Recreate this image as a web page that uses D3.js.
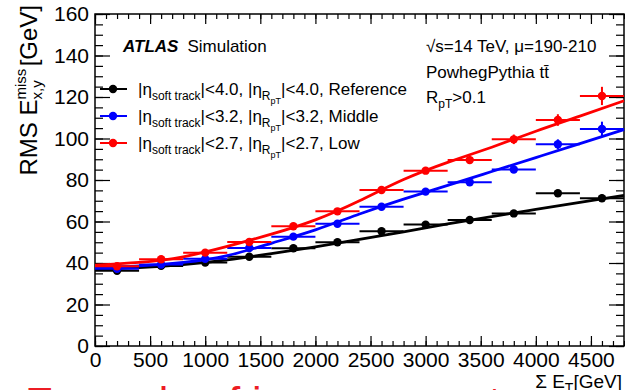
<!DOCTYPE html>
<html>
<head>
<meta charset="utf-8">
<script src="https://cdn.jsdelivr.net/npm/d3@7"></script>
<style>
  html, body { margin: 0; padding: 0; background: #fff; overflow: hidden; }
  svg { display: block; font-family: "Liberation Sans", Arial, sans-serif; }
</style>
</head>
<body>
<svg width="625" height="390"></svg>
<script>
// bin centres in sum E_T [GeV], each bin is 400 GeV wide
const sumEt = [200, 600, 1000, 1400, 1800, 2200, 2600, 3000, 3400, 3800, 4200, 4600];
const binHalfWidth = 200;

// RMS E_x,y^miss [GeV] per bin
const rmsReference = [36.3, 38.6, 40.2, 43.0, 47.1, 50.0, 55.3, 58.5, 60.7, 63.9, 73.6, 71.2];
const errReference = [0.6, 0.6, 0.6, 0.7, 0.8, 0.9, 1.0, 1.1, 1.2, 1.4, 1.3, 1.8];
const rmsMiddle = [37.2, 39.3, 42.0, 47.2, 52.7, 58.9, 67.1, 74.4, 78.9, 85.1, 97.2, 104.6];
const errMiddle = [0.6, 0.6, 0.7, 0.8, 0.9, 1.0, 1.2, 1.4, 1.6, 1.9, 2.4, 3.5];
const rmsLow = [38.4, 41.8, 45.0, 50.1, 57.7, 64.9, 75.2, 84.5, 89.6, 99.6, 108.9, 120.5];
const errLow = [0.6, 0.7, 0.8, 0.9, 1.0, 1.2, 1.4, 1.6, 1.9, 2.3, 2.8, 4.4];

// fitted curves read at these sum E_T values
const fitEt = [0, 400, 800, 1200, 1600, 2000, 2400, 2800, 3200, 3600, 4000, 4400, 4800];
const fitReference = [37.2, 37.8, 39.2, 41.5, 44.5, 47.8, 51.4, 55.0, 58.8, 62.4, 65.8, 69.2, 72.6];
const fitMiddle = [37.9, 38.6, 40.3, 43.6, 49.5, 56.0, 63.6, 70.8, 77.4, 84.1, 90.8, 97.5, 104.3];
const fitLow = [39.0, 40.3, 43.0, 48.0, 53.9, 60.8, 70.0, 80.2, 88.5, 95.8, 103.5, 110.8, 118.2];

const xTicks = [0, 500, 1000, 1500, 2000, 2500, 3000, 3500, 4000, 4500];
const yTicks = [0, 20, 40, 60, 80, 100, 120, 140, 160];
const legendCuts = ["4.0", "3.2", "2.7"];
const legendNames = ["Reference", "Middle", "Low"];

const svg = d3.select("svg");
const frameL = 95, frameR = 624, frameT = 14, frameB = 346;
const x = d3.scaleLinear().domain([0, 4800]).range([frameL, frameR]);
const y = d3.scaleLinear().domain([0, 160]).range([frameB, frameT]);

// writes a run of text pieces (for sub/superscripts) one after another
function rich(parent, x0, y0, parts, anchor) {
  const g = parent.append("g");
  let cx = 0;
  parts.forEach(p => {
    const t = g.append("text")
      .attr("x", cx + (p.dx || 0))
      .attr("y", p.dy || 0)
      .attr("font-size", p.s)
      .attr("font-weight", p.b ? "bold" : null)
      .attr("font-style", p.i ? "italic" : null)
      .attr("fill", p.c || "#000")
      .text(p.t);
    const w = t.node().getComputedTextLength();
    if (!p.stay) cx += (p.dx || 0) + w;
  });
  let shift = 0;
  if (anchor === "end") shift = -cx;
  if (anchor === "middle") shift = -cx / 2;
  g.attr("transform", `translate(${x0 + shift},${y0})`);
  return g;
}

// axes, ROOT style: ticks inside the frame on all four sides
function axisGroup(axis, tr) {
  const g = svg.append("g").attr("transform", tr).call(axis);
  g.select(".domain").remove();
  g.selectAll(".tick line").attr("stroke", "#000").attr("stroke-width", 1.2);
  return g;
}
const minorX = d3.range(0, 4801, 100), minorY = d3.range(0, 161, 5);

axisGroup(d3.axisBottom(x).tickValues(minorX).tickSize(-5).tickFormat(""), `translate(0,${frameB})`);
const xAx = axisGroup(d3.axisBottom(x).tickValues(xTicks).tickSize(-10).tickPadding(6).tickFormat(d3.format("d")), `translate(0,${frameB})`);
xAx.selectAll("text").attr("font-size", 21).attr("font-family", "Liberation Sans").attr("fill", "#000");
axisGroup(d3.axisTop(x).tickValues(minorX).tickSize(-5).tickFormat(""), `translate(0,${frameT})`);
axisGroup(d3.axisTop(x).tickValues(xTicks).tickSize(-10).tickFormat(""), `translate(0,${frameT})`);

axisGroup(d3.axisLeft(y).tickValues(minorY).tickSize(-8).tickFormat(""), `translate(${frameL},0)`);
const yAx = axisGroup(d3.axisLeft(y).tickValues(yTicks).tickSize(-15).tickPadding(6).tickFormat(d3.format("d")), `translate(${frameL},0)`);
yAx.selectAll("text").attr("font-size", 21).attr("font-family", "Liberation Sans").attr("fill", "#000");
axisGroup(d3.axisRight(y).tickValues(minorY).tickSize(-8).tickFormat(""), `translate(${frameR},0)`);
axisGroup(d3.axisRight(y).tickValues(yTicks).tickSize(-15).tickFormat(""), `translate(${frameR},0)`);

svg.append("rect")
  .attr("x", frameL).attr("y", frameT)
  .attr("width", frameR - frameL).attr("height", frameB - frameT)
  .attr("fill", "none").attr("stroke", "#000").attr("stroke-width", 1.5);

// series
const series = [
  { color: "#000000", rms: rmsReference, err: errReference, fit: fitReference },
  { color: "#0000ff", rms: rmsMiddle, err: errMiddle, fit: fitMiddle },
  { color: "#ff0000", rms: rmsLow, err: errLow, fit: fitLow }
];
const line = d3.line().x(d => x(d[0])).y(d => y(d[1])).curve(d3.curveNatural);

series.forEach(s => {
  const g = svg.append("g");
  g.selectAll(".h").data(sumEt).enter().append("line")
    .attr("x1", d => x(d - binHalfWidth)).attr("x2", d => x(d + binHalfWidth))
    .attr("y1", (d, i) => y(s.rms[i])).attr("y2", (d, i) => y(s.rms[i]))
    .attr("stroke", s.color).attr("stroke-width", 2);
  g.selectAll(".v").data(sumEt).enter().append("line")
    .attr("x1", d => x(d)).attr("x2", d => x(d))
    .attr("y1", (d, i) => y(s.rms[i] - s.err[i])).attr("y2", (d, i) => y(s.rms[i] + s.err[i]))
    .attr("stroke", s.color).attr("stroke-width", 2);
  g.selectAll("circle").data(sumEt).enter().append("circle")
    .attr("cx", d => x(d)).attr("cy", (d, i) => y(s.rms[i]))
    .attr("r", 4.2).attr("fill", s.color);
  g.append("path")
    .attr("d", line(fitEt.map((e, i) => [e, s.fit[i]])))
    .attr("fill", "none").attr("stroke", s.color).attr("stroke-width", 2.8);
});

// labels
rich(svg, 123, 52, [
  { t: "ATLAS", s: 17, b: true, i: true },
  { t: "Simulation", s: 17, dx: 9 }
]);

rich(svg, 426, 52, [{ t: "\u221As=14 TeV, \u03BC=190-210", s: 17 }]);
rich(svg, 426, 78, [{ t: "PowhegPythia t", s: 17 }, { t: "t\u0304", s: 17 }]);
rich(svg, 426, 103, [
  { t: "R", s: 17 }, { t: "pT", s: 12, dy: 5 }, { t: ">0.1", s: 17 }
]);

const legY = [89, 116, 143];
series.forEach((s, i) => {
  svg.append("line").attr("x1", 100).attr("x2", 127)
    .attr("y1", legY[i]).attr("y2", legY[i])
    .attr("stroke", s.color).attr("stroke-width", 2);
  svg.append("circle").attr("cx", 113).attr("cy", legY[i]).attr("r", 4.2).attr("fill", s.color);
  rich(svg, 138, legY[i] + 6, [
    { t: "|\u03B7", s: 17 },
    { t: "soft track", s: 12, dy: 5 },
    { t: "|<" + legendCuts[i] + ", |\u03B7", s: 17 },
    { t: "R", s: 12, dy: 5 },
    { t: "pT", s: 9, dy: 9 },
    { t: "|<" + legendCuts[i] + ", " + legendNames[i], s: 17 }
  ]);
});

// axis titles
rich(svg, 622, 388, [
  { t: "\u03A3 E", s: 19 }, { t: "T", s: 14, dy: 5 }, { t: " [GeV]", s: 19 }
], "end");

const yl = svg.append("g").attr("transform", "translate(37,5) rotate(-90)");
rich(yl, 0, 0, [
  { t: "RMS E", s: 24 },
  { t: "miss", s: 15, dy: -11, stay: true },
  { t: "x,y", s: 15, dy: 5 },
  { t: "[GeV]", s: 24, dx: 14 }
], "end");

// slide caption cut by the bottom edge
svg.append("text").attr("x", 25).attr("y", 417)
  .attr("font-size", 43).attr("fill", "#ed1c24")
  .attr("font-family", "Liberation Sans")
  .text("Example of improvements");
</script>
</body>
</html>
